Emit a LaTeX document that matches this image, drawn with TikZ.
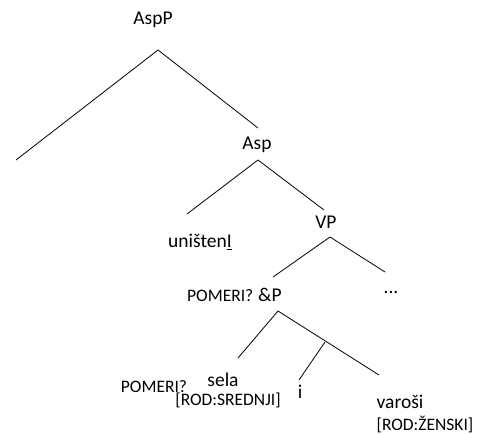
\documentclass[tikz,border=0pt]{standalone}
\usepackage{fontspec}
\setmainfont{Carlito}
\tikzset{
  big/.style={inner sep=0pt, font=\fontsize{19.5}{20}\selectfont},
  small/.style={inner sep=0pt, font=\fontsize{17.5}{18}\selectfont},
  branch/.style={line width=0.8pt}
}
\begin{document}
\begin{tikzpicture}[x=1pt,y=-1pt]
\useasboundingbox (0,0) rectangle (480,434);
% labels
\node[big] (aspp) at (153,20) {AspP};
\node[big] (asp) at (257,145) {Asp};
\node[big] (unis) at (200,242) {uništen\underline{I}};
\node[big] (vp) at (326,222) {VP};
\node[small,anchor=base west] (pom1) at (187,301) {POMERI?};
\node[big,anchor=base west] (andp) at (258,301) {\&P};
\node[big] (dots) at (391,292) {...};
\node[small] (pom2) at (154,387) {POMERI?};
\node[big] (sela) at (223,380) {sela};
\node[small] (rods) at (228,400) {[ROD:SREDNJI]};
\node[big] (conj) at (300,392) {i};
\node[big] (varosi) at (400,402) {varoši};
\node[small] (rodz) at (425,425) {[ROD:ŽENSKI]};
% branch points
\coordinate (t0) at (158,50);
\coordinate (l0) at (16,160);
\coordinate (a0) at (258,128);
\coordinate (t1) at (258,160);
\coordinate (u1) at (187,214);
\coordinate (v1) at (324,210);
\coordinate (t2) at (330,237);
\coordinate (p2) at (273,277);
\coordinate (d2) at (385,272);
\coordinate (t3) at (278,311);
\coordinate (s3) at (238,358);
\coordinate (m3) at (325,342);
\coordinate (i3) at (299,380);
\coordinate (w3) at (379,375);
% branches
\draw[branch] (l0) -- (t0) -- (a0);
\draw[branch] (u1) -- (t1) -- (v1);
\draw[branch] (p2) -- (t2) -- (d2);
\draw[branch] (s3) -- (t3) -- (w3);
\draw[branch] (m3) -- (i3);
\end{tikzpicture}
\end{document}
